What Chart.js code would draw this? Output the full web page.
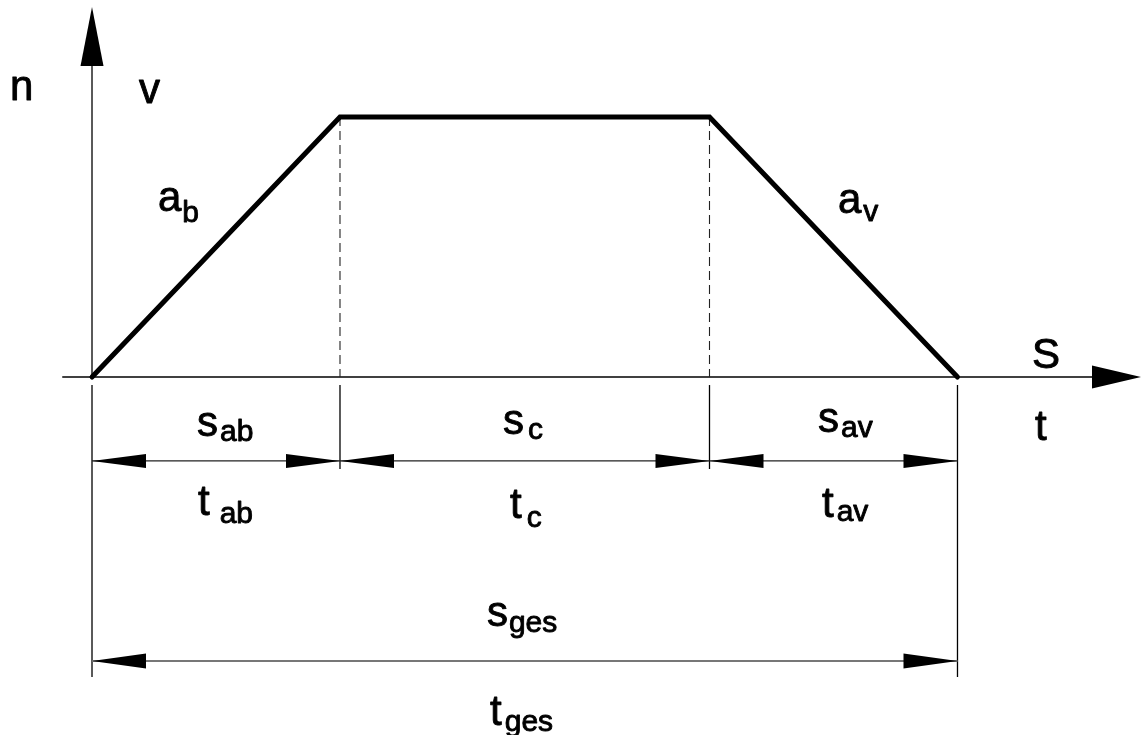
<!DOCTYPE html>
<html><head><meta charset="utf-8">
<script src="https://cdn.jsdelivr.net/npm/chart.js@4/dist/chart.umd.min.js"></script>
<style>html,body{margin:0;padding:0;background:#fff;overflow:hidden}</style>
</head><body>
<canvas id="c" width="1141" height="735"></canvas>
<script>
// ---- data ----
const phaseNames = ['ab', 'c', 'av'];
const phaseBounds = [0, 2.0, 4.98, 6.98];      // t-positions of phase boundaries
const profileTimes = [0, 2.0, 4.98, 6.98];
const profileSpeeds = [0, 1, 1, 0];
const axisNames = ['n', 'v', 'S', 't'];

// ---- view ----
const X_MIN = -0.742, X_MAX = 8.46, Y_MIN = -1.377, Y_MAX = 1.45;
const ROW1 = -0.323, ROW1_END = -0.354;      // first dimension row (s/t per phase)
const ROW2 = -1.092, ROW2_END = -1.154;      // total dimension row
const GAP = -0.031;                           // gap below axis for extension lines

const FONT = '"Liberation Sans", Arial, Helvetica, sans-serif';
const MAIN = 42, SUB = 30;

// labels: [main, sub, x, y (baseline, data units), subGap px, subDrop px]
const labels = [
  ['n', '', -0.661, 1.065, 0, 0],
  ['v', '', 0.379, 1.054, 0, 0],
  ['a', 'b', 0.532, 0.638, 1, 11],
  ['a', 'v', 6.016, 0.631, 2, 8],
  ['S', '', 7.581, 0.035, 0, 0],
  ['t', '', 7.605, -0.242, 0, 0],
  ['s', 'ab', 0.847, -0.227, 2, 5],
  ['s', 'c', 3.315, -0.219, 4, 5],
  ['s', 'av', 5.855, -0.212, 2, 5],
  ['t', 'ab', 0.855, -0.531, 10, 8],
  ['t', 'c', 3.371, -0.542, 5, 9],
  ['t', 'av', 5.887, -0.538, 3, 4],
  ['s', 'ges', 3.185, -0.958, 1, 6],
  ['t', 'ges', 3.21, -1.338, 3, 6]
];

function tri(ctx, tx, ty, dx, dy, len, half) {
  const bx = tx - dx * len, by = ty - dy * len;
  const px = -dy, py = dx;
  ctx.beginPath();
  ctx.moveTo(tx, ty);
  ctx.lineTo(bx + px * half, by + py * half);
  ctx.lineTo(bx - px * half, by - py * half);
  ctx.closePath();
  ctx.fill();
}
function seg(ctx, x0, y0, x1, y1) {
  ctx.beginPath(); ctx.moveTo(x0, y0); ctx.lineTo(x1, y1); ctx.stroke();
}

const drawing = {
  id: 'drawing',
  beforeDatasetsDraw(chart) {
    const ctx = chart.ctx, xs = chart.scales.x, ys = chart.scales.y;
    const X = v => xs.getPixelForValue(v), Y = v => ys.getPixelForValue(v);
    const x0 = X(0), y0 = Y(0), top = Y(1);
    ctx.save();
    ctx.fillStyle = '#000'; ctx.strokeStyle = '#000'; ctx.lineCap = 'butt';
    // y axis
    ctx.lineWidth = 1.3;
    seg(ctx, x0, Y(Y_MAX) + 60, x0, y0);
    tri(ctx, x0, Y(Y_MAX) + 7, 0, -1, 59, 11.5);
    // x axis
    const xEnd = X(X_MAX);
    seg(ctx, X(-0.24), y0, xEnd - 48, y0);
    tri(ctx, xEnd, y0, 1, 0, 49, 11.5);
    // dashed verticals at plateau corners
    ctx.lineWidth = 1.1; ctx.strokeStyle = '#222'; ctx.setLineDash([9, 5]);
    for (let i = 1; i < phaseBounds.length - 1; i++) seg(ctx, X(phaseBounds[i]), top, X(phaseBounds[i]), y0);
    ctx.setLineDash([]);
    // extension lines
    ctx.strokeStyle = '#000'; ctx.lineWidth = 1.3;
    phaseBounds.forEach((b, i) => {
      const end = (i === 0 || i === phaseBounds.length - 1) ? ROW2_END : ROW1_END;
      seg(ctx, X(b), Y(GAP), X(b), Y(end));
    });
    // dimension row 1
    ctx.lineWidth = 1.2; ctx.strokeStyle = '#222';
    for (let i = 0; i < phaseNames.length; i++) {
      const a = X(phaseBounds[i]), b = X(phaseBounds[i + 1]), r = Y(ROW1);
      seg(ctx, a, r, b, r);
      tri(ctx, a, r, -1, 0, 54, 7);
      tri(ctx, b, r, 1, 0, 54, 7);
    }
    // dimension row 2
    ctx.lineWidth = 2; ctx.strokeStyle = '#777';
    const a2 = X(phaseBounds[0]), b2 = X(phaseBounds[phaseBounds.length - 1]), r2 = Y(ROW2);
    seg(ctx, a2, r2, b2, r2);
    tri(ctx, a2, r2, -1, 0, 54, 7.5);
    tri(ctx, b2, r2, 1, 0, 54, 7.5);
    ctx.restore();
  },
  afterDatasetsDraw(chart) {
    const ctx = chart.ctx, xs = chart.scales.x, ys = chart.scales.y;
    ctx.save();
    ctx.fillStyle = '#000'; ctx.strokeStyle = '#000'; ctx.lineWidth = 0.9; ctx.lineJoin = 'round';
    ctx.textBaseline = 'alphabetic'; ctx.textAlign = 'left';
    const put = (t, x, y) => { ctx.fillText(t, x, y); ctx.strokeText(t, x, y); };
    labels.forEach(([m, s, x, y, gap, drop]) => {
      const px = xs.getPixelForValue(x), py = ys.getPixelForValue(y);
      ctx.font = MAIN + 'px ' + FONT;
      put(m, px, py);
      if (s) {
        const w = ctx.measureText(m).width;
        ctx.font = SUB + 'px ' + FONT;
        put(s, px + w + gap, py + drop);
      }
    });
    ctx.restore();
  }
};

new Chart(document.getElementById('c'), {
  type: 'scatter',
  data: {
    datasets: [{
      data: profileTimes.map((t, i) => ({ x: t, y: profileSpeeds[i] })),
      showLine: true,
      borderColor: '#000',
      borderWidth: 5,
      borderCapStyle: 'round',
      borderJoinStyle: 'miter',
      pointRadius: 0,
      tension: 0,
      clip: false
    }]
  },
  options: {
    responsive: false,
    animation: false,
    devicePixelRatio: 1,
    layout: { padding: 0 },
    plugins: { legend: { display: false }, tooltip: { enabled: false } },
    scales: {
      x: { type: 'linear', display: false, min: X_MIN, max: X_MAX },
      y: { type: 'linear', display: false, min: Y_MIN, max: Y_MAX }
    }
  },
  plugins: [drawing]
});
</script>
</body></html>
